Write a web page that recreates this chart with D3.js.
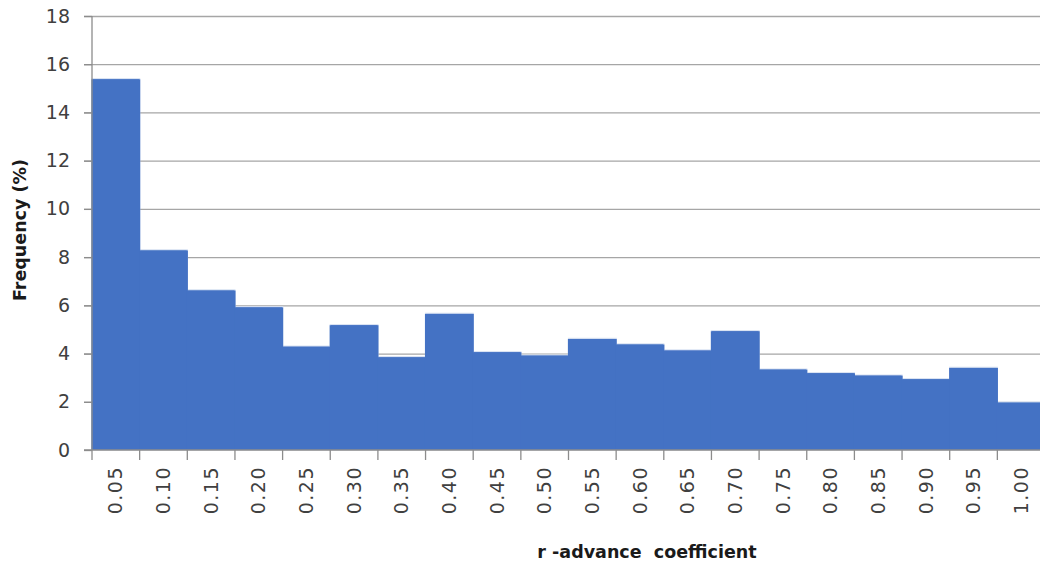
<!DOCTYPE html>
<html><head><meta charset="utf-8">
<script src="https://cdn.jsdelivr.net/npm/d3@7"></script>
<style>body{margin:0;background:#fff}svg{display:block}</style>
</head><body>
<svg id="c" width="1040" height="566"></svg>
<script>
const categories = ["0.05","0.10","0.15","0.20","0.25","0.30","0.35","0.40","0.45","0.50","0.55","0.60","0.65","0.70","0.75","0.80","0.85","0.90","0.95","1.00"];
const frequency = [15.40,8.30,6.64,5.94,4.31,5.20,3.87,5.67,4.08,3.94,4.63,4.40,4.15,4.95,3.36,3.21,3.11,2.96,3.43,1.99];
const yTicks = [0,2,4,6,8,10,12,14,16,18];
const xTitle = "r -advance  coefficient";
const yTitle = "Frequency (%)";

(function(){
const svg = d3.select("#c");
const mL = 92, mR = 1045, mT = 16, mB = 450;
const x = d3.scaleBand().domain(categories).range([mL, mR]).padding(0);
const y = d3.scaleLinear().domain([0, 18]).range([mB, mT]);
const font = "'DejaVu Sans', Verdana, sans-serif";

// gridlines
svg.append("g").selectAll("line").data(yTicks.filter(d => d > 0)).join("line")
  .attr("x1", mL - 8).attr("x2", 1040)
  .attr("y1", d => y(d) + 0.5).attr("y2", d => y(d) + 0.5)
  .attr("stroke", "#a6a6a6").attr("stroke-width", 1.3);

// bars (light outline layer, then fill on top so internal edges vanish)
const bars = svg.append("g");
bars.selectAll("rect.o").data(frequency).join("rect").attr("class", "o")
  .attr("x", (d, i) => x(categories[i]))
  .attr("y", d => y(d))
  .attr("width", x.bandwidth())
  .attr("height", d => mB - y(d))
  .attr("fill", "#4472C4")
  .attr("stroke", "#dbe4f3").attr("stroke-width", 1.2);
bars.selectAll("rect.f").data(frequency).join("rect").attr("class", "f")
  .attr("x", (d, i) => x(categories[i]) - 0.6)
  .attr("y", d => y(d) + 0.6)
  .attr("width", x.bandwidth() + 1.2)
  .attr("height", d => mB - y(d) - 0.6)
  .attr("fill", "#4472C4");

// y axis
const ya = svg.append("g").attr("transform", `translate(${mL},0)`)
  .call(d3.axisLeft(y).tickValues(yTicks).tickSize(8).tickPadding(14).tickFormat(d3.format("d")));
ya.select(".domain").attr("stroke", "#8c8c8c").attr("stroke-width", 1.3).attr("d", `M0,${mT}V${mB}`);
ya.selectAll(".tick line").attr("stroke", "#8c8c8c").attr("stroke-width", 1.3);
ya.selectAll(".tick text").attr("font-family", font).attr("font-size", 19).attr("fill", "#404040");

// x axis
const xa = svg.append("g").attr("transform", `translate(0,${mB})`)
  .call(d3.axisBottom(x).tickSize(0).tickPadding(0));
xa.select(".domain").attr("stroke", "#8c8c8c").attr("stroke-width", 1.3).attr("d", `M${mL - 8},0H1040`);
xa.selectAll(".tick text")
  .attr("font-family", font).attr("font-size", 19).attr("fill", "#404040")
  .attr("letter-spacing", 1.5)
  .attr("text-anchor", "end").attr("dy", "0.35em")
  .attr("transform", "translate(0,16) rotate(-90)")
  .attr("x", 0).attr("y", 0);
// boundary ticks
const bounds = categories.map(c => x(c));
xa.append("g").selectAll("line").data(bounds).join("line")
  .attr("x1", d => d).attr("x2", d => d).attr("y1", 0).attr("y2", 10)
  .attr("stroke", "#8c8c8c").attr("stroke-width", 1.3);

// titles
svg.append("text").attr("x", 647).attr("y", 558).attr("text-anchor", "middle")
  .attr("font-family", font).attr("font-weight", "bold").attr("font-size", 17.5)
  .attr("fill", "#1a1a1a").style("white-space", "pre").text(xTitle);
svg.append("text").attr("transform", "translate(26,230) rotate(-90)").attr("text-anchor", "middle")
  .attr("font-family", font).attr("font-weight", "bold").attr("font-size", 17.5)
  .attr("fill", "#1a1a1a").text(yTitle);
})();
</script>
</body></html>
